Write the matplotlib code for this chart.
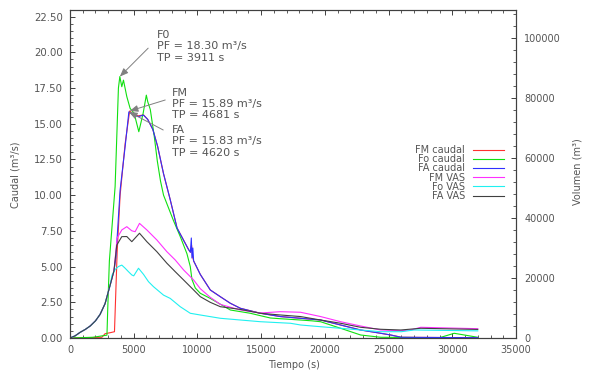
import matplotlib
matplotlib.use("Agg")
import matplotlib.pyplot as plt
from matplotlib.ticker import MultipleLocator, FormatStrFormatter

plt.rcParams['font.family'] = ['DejaVu Sans']

# ---------------- data ----------------
# caudal (m3/s)
t_fm_q = [0, 2500, 2750, 3200, 3490, 3700, 3933, 4326, 4681, 4980, 5374, 5767, 6100, 6500,
          6880, 7340, 7860, 8400, 9000, 9300, 9450, 9540, 9620, 9700, 10225, 11011, 11798,
          12584, 13371, 14944, 16517, 18090, 19663, 21236, 22809, 24382, 25169, 26000, 32000]
fm_q = [0, 0.05, 0.3, 0.38, 0.44, 6.0, 10.0, 13.6, 15.89, 15.65, 15.55, 15.62, 15.3, 14.6,
        13.4, 11.5, 9.7, 7.7, 6.7, 6.2, 6.0, 6.5, 5.7, 5.4, 4.45, 3.36, 2.89,
        2.43, 2.08, 1.73, 1.5, 1.38, 1.26, 0.91, 0.56, 0.33, 0.21, 0.05, 0.02]

t_fo_q = [0, 1800, 2900, 2960, 3090, 3540, 3800, 3911, 4064, 4195, 4457, 4719, 5033, 5400,
          5740, 5990, 6100, 6300, 6600, 6850, 7100, 7340, 7734, 8128, 8652, 9177, 9439,
          9570, 9832, 10225, 11011, 12584, 14157, 15000, 15730, 16500, 18090, 19000,
          19663, 21236, 22809, 24382, 29000, 30150, 32000]
fo_q = [0, 0.05, 0.2, 2.0, 5.4, 10.6, 17.5, 18.3, 17.59, 18.05, 16.9, 16.07, 15.73, 14.44,
        15.73, 17.0, 16.54, 16.0, 14.2, 12.4, 11.0, 10.0, 9.1, 8.2, 7.1, 5.9, 5.0,
        4.1, 3.5, 3.13, 2.77, 1.96, 1.73, 1.55, 1.4, 1.35, 1.26, 1.2,
        1.14, 0.68, 0.21, 0.05, 0.02, 0.33, 0.05]

t_fa_q = [0, 400, 800, 1200, 1600, 2000, 2360, 2750, 3150, 3450, 3600, 3933, 4326, 4620,
          4980, 5374, 5767, 6100, 6500, 6880, 7340, 7860, 8400, 9000, 9300, 9450, 9520,
          9570, 9640, 9700, 10225, 11011, 11798, 12584, 13371, 14944, 16517, 18090,
          19663, 21236, 22809, 24382, 25169, 26000, 32000]
fa_q = [0, 0.15, 0.4, 0.6, 0.85, 1.2, 1.65, 2.4, 3.7, 4.7, 5.6, 10.36, 13.39, 15.83,
        15.6, 15.5, 15.6, 15.3, 14.6, 13.4, 11.5, 9.7, 7.7, 6.7, 6.2, 6.0, 7.0,
        5.6, 6.3, 5.4, 4.45, 3.36, 2.89, 2.43, 2.08, 1.73, 1.5, 1.38,
        1.26, 0.91, 0.56, 0.33, 0.21, 0.05, 0.02]

# VAS volumes (m3)
t_fm_v = [0, 400, 800, 1200, 1600, 2000, 2360, 2750, 3150, 3450, 3700, 4064, 4457, 4850,
          5112, 5454, 6030, 6816, 7603, 8259, 8915, 9701, 10225, 11000, 11798, 13371,
          14944, 16517, 18090, 19663, 21236, 22809, 24382, 25955, 26742, 27528, 32000]
fm_v = [0, 710, 1900, 2860, 4050, 5720, 7860, 11430, 17630, 22390, 33350, 36020, 37110,
        35730, 35440, 38210, 36020, 32680, 28770, 26010, 22680, 19340, 16440, 13580,
        11200, 9340, 8340, 8770, 8580, 7150, 5430, 4000, 2670, 2430, 2670, 3570, 3100]

t_fo_v = [0, 400, 800, 1200, 1600, 2000, 2360, 2750, 3150, 3300, 3550, 3800, 4064, 4330,
          4590, 4850, 5000, 5375, 5770, 6160, 6554, 7340, 7865, 8652, 9439, 10225, 11800,
          13370, 14944, 17300, 18090, 19663, 21236, 24382, 26000, 27000, 32000]
fo_v = [0, 710, 1900, 2860, 4050, 5720, 7860, 11430, 17630, 20960, 22870, 23820, 24300,
        23250, 22100, 21010, 20720, 23250, 21200, 18770, 17100, 14290, 13200, 10430, 8240,
        7670, 6570, 6000, 5430, 4910, 4340, 3760, 3240, 2100, 2100, 2670, 2380]

t_fa_v = [0, 400, 800, 1200, 1600, 2000, 2360, 2750, 3150, 3450, 3670, 4064, 4457, 4850,
          5454, 6030, 6816, 7603, 8259, 8915, 9701, 10225, 11000, 11798, 13371, 14944,
          16517, 18090, 19663, 21236, 22809, 24382, 25955, 27528, 32000]
fa_v = [0, 710, 1900, 2860, 4050, 5720, 7860, 11430, 17630, 22390, 30970, 33780, 33820,
        32110, 34920, 32110, 28770, 24920, 22100, 19340, 16010, 13770, 11910, 10430, 9530,
        8240, 7670, 7150, 6000, 4910, 3570, 2910, 2670, 3240, 2860]

labels = ["FM caudal", "Fo caudal", "FA caudal", "FM VAS", "Fo VAS", "FA VAS"]
ann_names = ["F0", "FM", "FA"]
ann_pf = [18.30, 15.89, 15.83]
ann_tp = [3911, 4681, 4620]

# ---------------- figure ----------------
fig = plt.figure(figsize=(5.9, 3.74), dpi=100)
ax = fig.add_axes([70/590, 1-338/374, (516-70)/590, (338-10)/374])
ax2 = ax.twinx()

tc = '#555555'
sc = '#404040'
lw = 0.8
c_red, c_green, c_blue = '#ff3030', '#10e010', '#3030ff'
c_mag, c_cyan, c_blk = '#ff30ff', '#20f0f0', '#404040'

l1, = ax.plot(t_fm_q, fm_q, color=c_red, lw=lw)
l2, = ax.plot(t_fo_q, fo_q, color=c_green, lw=lw)
l3, = ax.plot(t_fa_q, fa_q, color=c_blue, lw=lw)
l4, = ax2.plot(t_fm_v, fm_v, color=c_mag, lw=lw)
l5, = ax2.plot(t_fo_v, fo_v, color=c_cyan, lw=lw)
l6, = ax2.plot(t_fa_v, fa_v, color=c_blk, lw=lw)

ax.set_xlim(0, 35000)
ax.set_ylim(0, 22.96)
ax2.set_ylim(0, 109330)

ax.xaxis.set_major_locator(MultipleLocator(5000))
ax.xaxis.set_minor_locator(MultipleLocator(1000))
ax.yaxis.set_major_locator(MultipleLocator(2.5))
ax.yaxis.set_minor_locator(MultipleLocator(0.5))
ax.yaxis.set_major_formatter(FormatStrFormatter('%.2f'))
ax2.yaxis.set_major_locator(MultipleLocator(20000))
ax2.yaxis.set_minor_locator(MultipleLocator(4000))

for a in (ax, ax2):
    for s in a.spines.values():
        s.set_color(sc)
        s.set_linewidth(0.8)
ax.tick_params(axis='x', which='both', direction='in', top=True, bottom=True,
               colors=sc, labelcolor=tc, labelsize=7, pad=5)
ax.tick_params(axis='y', which='both', direction='in', left=True, right=False,
               colors=sc, labelcolor=tc, labelsize=7.3, pad=5)
ax2.tick_params(axis='y', which='both', direction='in', right=True,
                colors=sc, labelcolor=tc, labelsize=7, pad=6)
for a in (ax, ax2):
    a.tick_params(which='major', length=3.5, width=0.7)
    a.tick_params(which='minor', length=2, width=0.6)

fig.text(15/590, 1-175/374, "Caudal (m³/s)", rotation=90, ha='center', va='center',
         fontsize=7, color=tc)
fig.text(577/590, 1-172/374, "Volumen (m³)", rotation=90, ha='center', va='center',
         fontsize=7, color=tc)
fig.text(294/590, 1-365/374, "Tiempo (s)", ha='center', va='center', fontsize=7, color=tc)

# annotations
text_pos = [(6843, 21.55), (7999, 17.5), (7999, 14.9)]
arrow_start = [(6135, 20.29), (7472, 16.66), (7315, 14.56)]
for name, pf, tp, tpos, st in zip(ann_names, ann_pf, ann_tp, text_pos, arrow_start):
    ax.text(tpos[0], tpos[1], f"{name}\nPF = {pf:.2f} m³/s\nTP = {tp} s",
            ha='left', va='top', fontsize=8, color=tc, linespacing=1.15)
    ax.annotate('', xy=(tp, pf), xytext=st,
                arrowprops=dict(arrowstyle='-|>,head_length=0.5,head_width=0.2',
                                color='#808080', lw=0.7, shrinkA=0, shrinkB=0))

ax2.legend([l1, l2, l3, l4, l5, l6], labels, loc='center right',
           bbox_to_anchor=(504/590, 1-173/374), bbox_transform=fig.transFigure,
           frameon=False, markerfirst=False, fontsize=7, labelspacing=-0.08,
           handlelength=3.2, handletextpad=0.8, borderpad=0, borderaxespad=0,
           labelcolor=tc)

fig.savefig("out.png", dpi=100)
